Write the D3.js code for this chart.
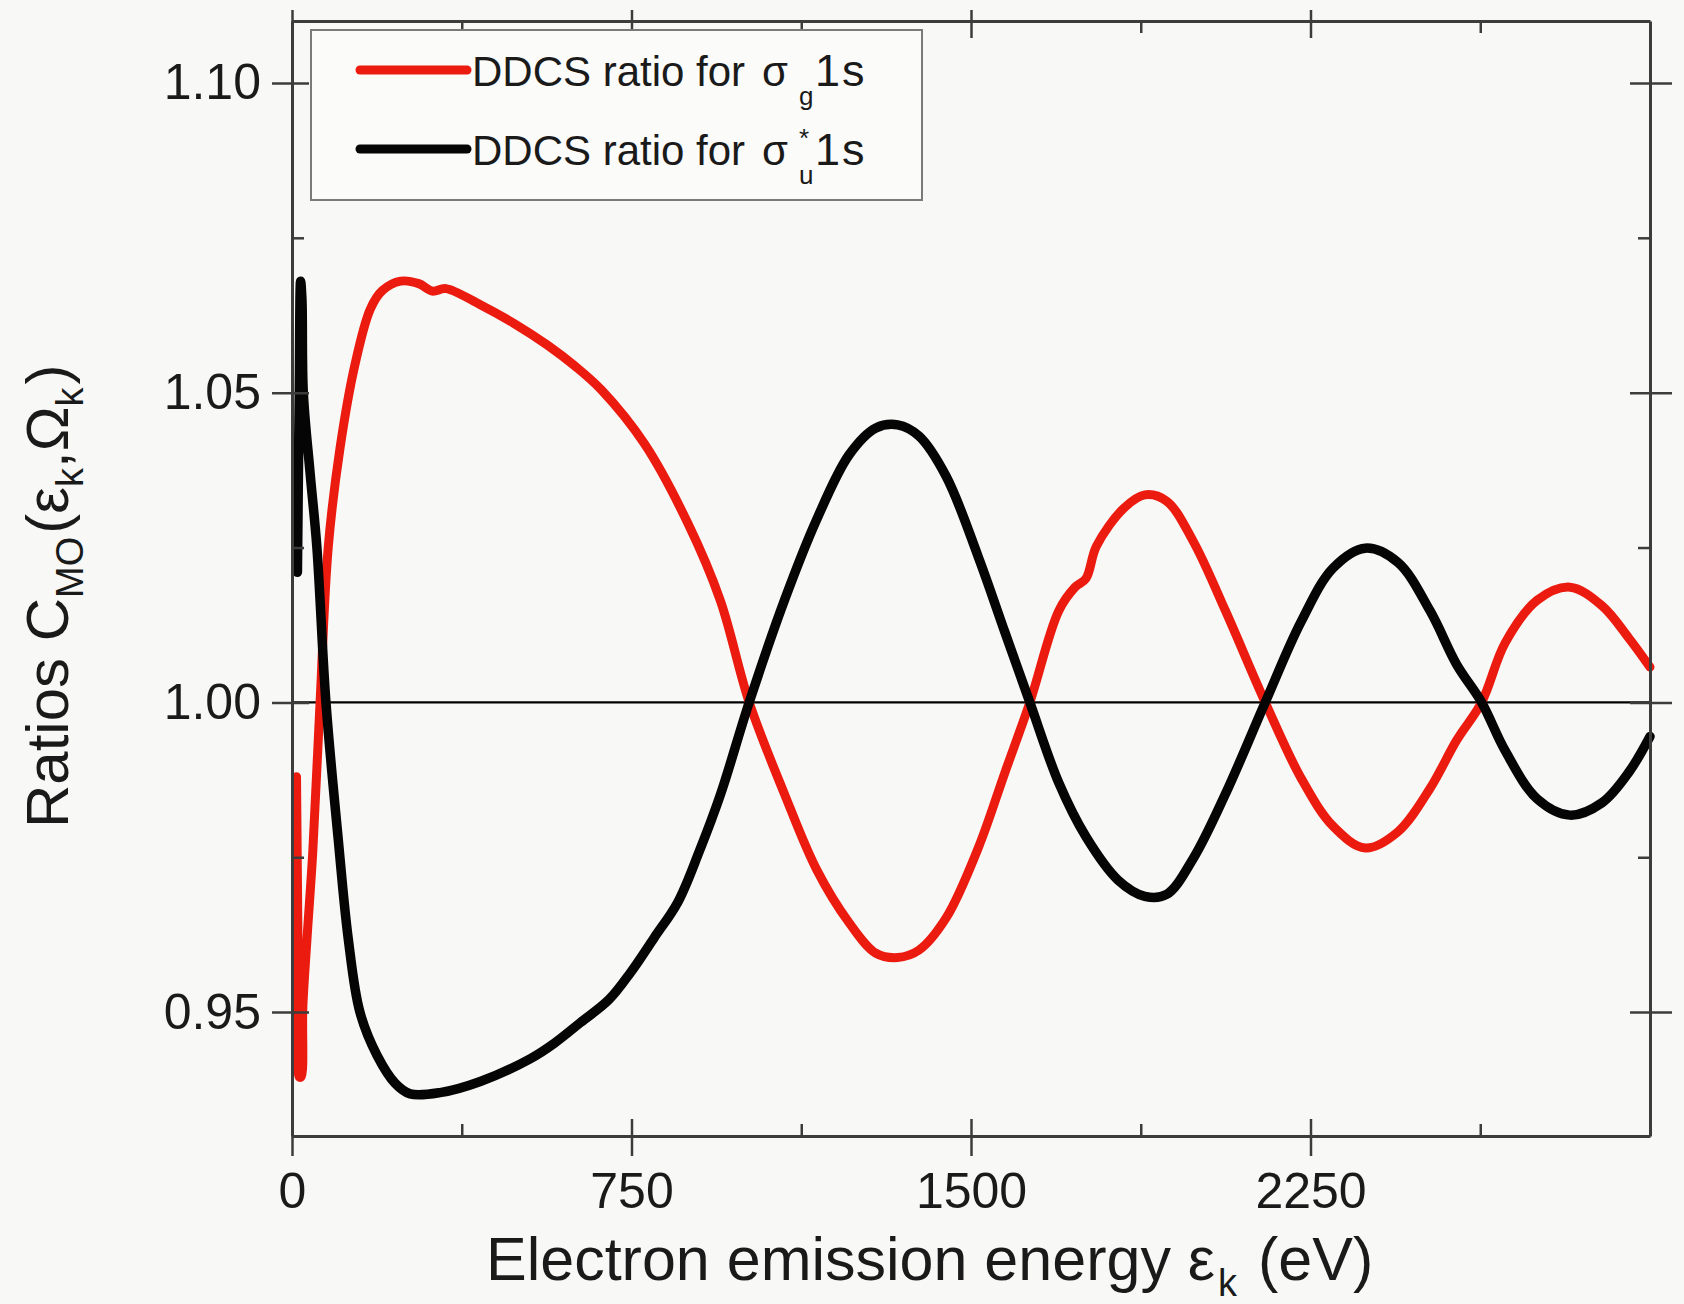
<!DOCTYPE html>
<html><head><meta charset="utf-8">
<script src="https://cdn.jsdelivr.net/npm/d3@7"></script>
<style>
html,body{margin:0;padding:0;background:#f8f9f7;}
svg{display:block;}
text{font-family:"Liberation Sans",Arial,Helvetica,sans-serif;fill:#1a1a1a;}
</style></head>
<body>
<svg id="chart" width="1684" height="1304"></svg>
<script>
// ---- data ----
const energySigmaG = [10,13,16,20,24,33,46,62,80,106,139,173,200,240,280,310,340,416,490,564,625,684,779,874,946,1010,1088,1159,1231,1290,1338,1385,1445,1516,1575,1630,1694,1730,1754,1777,1837,1884,1932,1991,2062,2150,2229,2300,2371,2443,2514,2573,2628,2680,2751,2823,2894,2953,3000];
const ratioSigmaG  = [0.988,0.963,0.9395,0.9395,0.951,0.9617,0.976,1.000,1.025,1.041,1.0545,1.0635,1.0665,1.068,1.0676,1.0664,1.0668,1.0642,1.0612,1.0577,1.0543,1.0504,1.0417,1.029,1.0165,1.000,0.9852,0.973,0.9644,0.9595,0.9588,0.960,0.9652,0.9765,0.9887,1.000,1.0148,1.0186,1.020,1.0252,1.0313,1.0335,1.0325,1.026,1.0148,1.000,0.9878,0.980,0.9765,0.9791,0.9861,0.9939,1.000,1.0096,1.0165,1.0186,1.0156,1.0104,1.0057];

const energySigmaU = [12,16,19,22,25,40,55,75,102,124,150,188,228,261,327,416,527,580,637,700,748,800,852,900,946,1010,1088,1159,1231,1290,1338,1385,1445,1516,1575,1630,1694,1754,1825,1884,1932,1991,2062,2150,2229,2300,2371,2443,2514,2573,2628,2680,2751,2823,2894,2953,3000];
const ratioSigmaU  = [1.021,1.05,1.068,1.065,1.050,1.037,1.025,1.000,0.978,0.962,0.950,0.943,0.9385,0.9368,0.937,0.9388,0.9425,0.945,0.9483,0.952,0.9564,0.962,0.9677,0.976,0.985,1.000,1.0165,1.0295,1.040,1.0443,1.0448,1.043,1.0365,1.0235,1.0113,1.000,0.987,0.9783,0.9713,0.9687,0.969,0.9748,0.9852,1.000,1.013,1.0217,1.0249,1.0226,1.0148,1.0061,1.000,0.9922,0.9844,0.9818,0.9838,0.9887,0.9945];

const xMajorTicks = [0, 750, 1500, 2250];
const xMinorTicks = [375, 1125, 1875, 2625];
const yMajorTicks = [0.95, 1.00, 1.05, 1.10];
const yMinorTicks = [0.975, 1.025, 1.075];
const xTickLabels = ["0", "750", "1500", "2250"];
const yTickLabels = ["0.95", "1.00", "1.05", "1.10"];

// ---- layout ----
const L = 292, R = 1650, T = 21, B = 1136;
const svg = d3.select("#chart");
svg.append("rect").attr("width",1684).attr("height",1304).attr("fill","#f8f9f7");

const x = d3.scaleLinear().domain([0, 3000]).range([L, R]);
const y = d3.scaleLinear().domain([0.93, 1.11]).range([B, T]);

const axisColor = "#3c3c3c";

// reference line at 1.00
svg.append("line").attr("x1", L).attr("x2", R).attr("y1", y(1)).attr("y2", y(1))
  .attr("stroke", "#000").attr("stroke-width", 2.2);

// curves
const line = d3.line().x(d => x(d[0])).y(d => y(d[1])).curve(d3.curveCatmullRom.alpha(0.5));
const redData = energySigmaG.map((e,i)=>[e, ratioSigmaG[i]]);
const blackData = energySigmaU.map((e,i)=>[e, ratioSigmaU[i]]);
svg.append("path").datum(redData).attr("d", line).attr("fill","none")
  .attr("stroke","#ec1b10").attr("stroke-width",9).attr("stroke-linejoin","round").attr("stroke-linecap","round");
svg.append("path").datum(blackData).attr("d", line).attr("fill","none")
  .attr("stroke","#050505").attr("stroke-width",9.5).attr("stroke-linejoin","round").attr("stroke-linecap","round");

// ---- axes ----
function styleAxis(g){
  g.select(".domain").attr("stroke", axisColor).attr("stroke-width", 3);
  g.selectAll(".tick line").attr("stroke", axisColor).attr("stroke-width", 2.5);
}
// bottom
const gB = svg.append("g").attr("transform", `translate(0,${B})`)
  .call(d3.axisBottom(x).tickValues(xMajorTicks).tickSize(20).tickPadding(16)
        .tickFormat((d,i)=>xTickLabels[i]).tickSizeOuter(0));
gB.selectAll(".tick line").attr("y1", -17).attr("y2", 20);
gB.selectAll(".tick text").attr("font-size", 50).attr("fill","#1a1a1a").attr("dy","0.71em").attr("y", 36);
styleAxis(gB);
const gBm = svg.append("g").attr("transform", `translate(0,${B})`)
  .call(d3.axisBottom(x).tickValues(xMinorTicks).tickSize(-12).tickFormat("").tickSizeOuter(0));
gBm.select(".domain").remove(); styleAxis(gBm);
// top
const gT = svg.append("g").attr("transform", `translate(0,${T})`)
  .call(d3.axisTop(x).tickValues(xMajorTicks).tickSize(11).tickFormat("").tickSizeOuter(0));
gT.selectAll(".tick line").attr("y1", 17).attr("y2", -11);
styleAxis(gT);
const gTm = svg.append("g").attr("transform", `translate(0,${T})`)
  .call(d3.axisTop(x).tickValues(xMinorTicks).tickSize(-12).tickFormat("").tickSizeOuter(0));
gTm.select(".domain").remove(); styleAxis(gTm);
// left
const gL = svg.append("g").attr("transform", `translate(${L},0)`)
  .call(d3.axisLeft(y).tickValues(yMajorTicks).tickSize(20).tickPadding(11)
        .tickFormat((d,i)=>yTickLabels[i]).tickSizeOuter(0));
gL.selectAll(".tick line").attr("x1", 17).attr("x2", -20);
gL.selectAll(".tick text").attr("font-size", 50).attr("fill","#1a1a1a").attr("x", -31);
styleAxis(gL);
const gLm = svg.append("g").attr("transform", `translate(${L},0)`)
  .call(d3.axisLeft(y).tickValues(yMinorTicks).tickSize(-12).tickFormat("").tickSizeOuter(0));
gLm.select(".domain").remove(); styleAxis(gLm);
// right
const gR = svg.append("g").attr("transform", `translate(${R},0)`)
  .call(d3.axisRight(y).tickValues(yMajorTicks).tickSize(22).tickFormat("").tickSizeOuter(0));
gR.selectAll(".tick line").attr("x1", -20).attr("x2", 22);
styleAxis(gR);
const gRm = svg.append("g").attr("transform", `translate(${R},0)`)
  .call(d3.axisRight(y).tickValues(yMinorTicks).tickSize(-12).tickFormat("").tickSizeOuter(0));
gRm.select(".domain").remove(); styleAxis(gRm);

// ---- axis titles ----
const xt = svg.append("text").attr("x", 486).attr("y", 1280).attr("font-size", 61);
xt.append("tspan").text("Electron emission energy ε");
xt.append("tspan").attr("font-size", 38).attr("dy", 16).attr("dx", 3).text("k");
xt.append("tspan").attr("dy", -16).attr("dx", 4).text(" (eV)");

const yt = svg.append("text").attr("transform", "translate(68,828) rotate(-90)").attr("font-size", 60);
yt.append("tspan").text("Ratios C");
yt.append("tspan").attr("font-size", 38).attr("dy", 15).text("MO");
yt.append("tspan").attr("dy", -15).attr("dx", 3).text("(ε");
yt.append("tspan").attr("font-size", 38).attr("dy", 15).text("k");
yt.append("tspan").attr("dy", -15).text(",Ω");
yt.append("tspan").attr("font-size", 38).attr("dy", 15).text("k");
yt.append("tspan").attr("dy", -15).attr("dx", 3).text(")");

// ---- legend ----
const lg = svg.append("g");
lg.append("rect").attr("x", 311).attr("y", 30).attr("width", 611).attr("height", 170)
  .attr("fill", "#fbfbfa").attr("stroke", "#7a7a7a").attr("stroke-width", 2);
const legendItems = [
  {color:"#ec1b10", sub:"g", sup:"", y:70},
  {color:"#050505", sub:"u", sup:"*", y:149}
];
legendItems.forEach(it => {
  lg.append("line").attr("x1", 360).attr("x2", 467).attr("y1", it.y).attr("y2", it.y)
    .attr("stroke", it.color).attr("stroke-width", 9).attr("stroke-linecap","round");
  const base = it.y + 16;
  lg.append("text").attr("x", 472).attr("y", base).attr("font-size", 42).text("DDCS ratio for");
  lg.append("text").attr("x", 762).attr("y", base).attr("font-size", 42).text("σ");
  lg.append("text").attr("x", 799).attr("y", base + 19).attr("font-size", 26).text(it.sub);
  if (it.sup) lg.append("text").attr("x", 799).attr("y", base - 18).attr("font-size", 26).text(it.sup);
  lg.append("text").attr("x", 815).attr("y", base).attr("font-size", 45).attr("letter-spacing", 2).text("1s");
});
</script>
</body></html>
